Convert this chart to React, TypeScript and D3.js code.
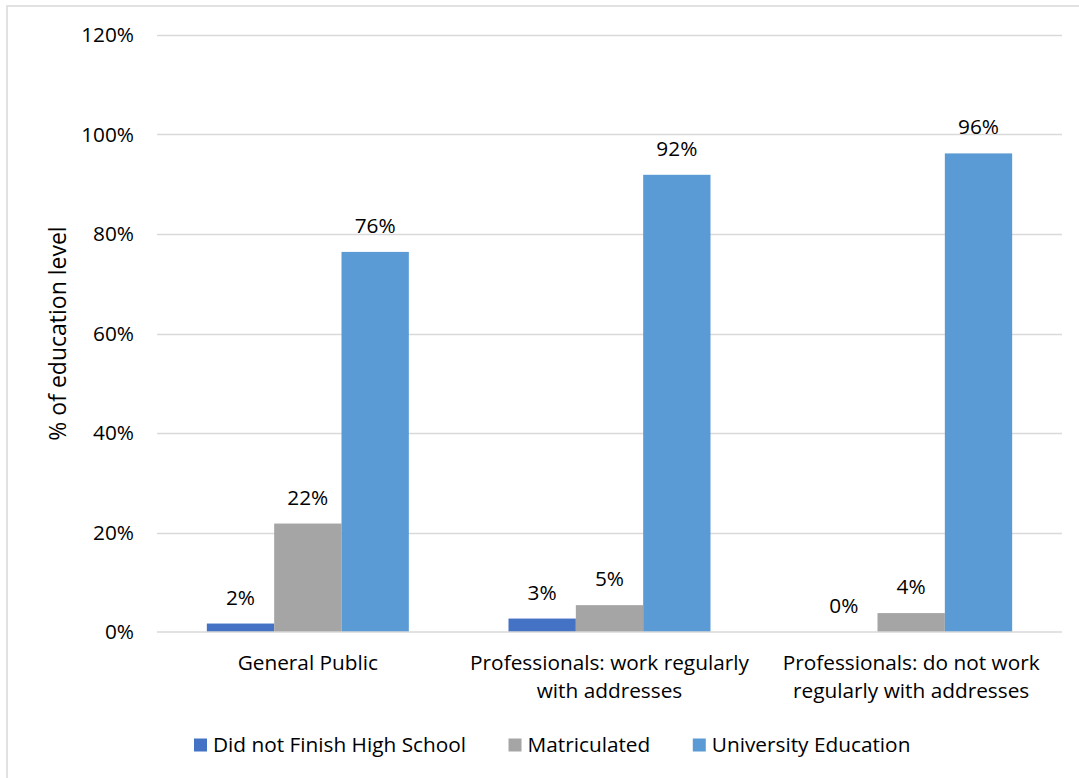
import React, { useEffect, useRef } from "react";
import * as d3 from "d3";

// Education level by respondent group
const categories = [
  "General Public",
  "Professionals: work regularly with addresses",
  "Professionals: do not work regularly with addresses",
];
const seriesNames = ["Did not Finish High School", "Matriculated", "University Education"];
const seriesColors = ["#4472C4", "#A5A5A5", "#5B9BD5"];
const noHighSchool = [0.017, 0.027, 0];
const matriculated = [0.218, 0.054, 0.038];
const university = [0.764, 0.919, 0.962];
const yTicks = [0, 0.2, 0.4, 0.6, 0.8, 1.0, 1.2];

const W = 1079;
const H = 778;
const FONT = "'Open Sans', Lato, sans-serif";
const FS = 20.8;

function measure(text: string, size: number): number {
  const c = document.createElement("canvas").getContext("2d")!;
  c.font = `${size}px 'Open Sans'`;
  return c.measureText(text).width;
}

function wrap(text: string, maxW: number, size: number): string[] {
  const words = text.split(" ");
  const lines: string[] = [];
  let cur = "";
  for (const w of words) {
    const t = cur ? cur + " " + w : w;
    if (measure(t, size) > maxW && cur) {
      lines.push(cur);
      cur = w;
    } else cur = t;
  }
  if (cur) lines.push(cur);
  return lines;
}

export default function App() {
  const ref = useRef<SVGSVGElement>(null);

  useEffect(() => {
    const svg = d3.select(ref.current!);
    svg.selectAll("*").remove();

    const left = 157, right = 1062, top = 35, bottom = 632;
    const series = [noHighSchool, matriculated, university];

    const x = d3.scaleBand<string>().domain(categories).range([left, right]).padding(0);
    const xi = d3
      .scaleBand<number>()
      .domain(d3.range(series.length))
      .range([0, x.bandwidth()])
      .paddingInner(0)
      .paddingOuter(0.74);
    const y = d3.scaleLinear().domain([0, 1.2]).range([bottom, top]);
    const fmt = d3.format(".0%");

    // chart frame
    svg
      .append("rect")
      .attr("x", 7)
      .attr("y", 6)
      .attr("width", 1200)
      .attr("height", 1000)
      .attr("fill", "#fff")
      .attr("stroke", "#D9D9D9")
      .attr("stroke-width", 1.5);

    // gridlines
    svg
      .append("g")
      .selectAll("line")
      .data(yTicks.filter((t) => t > 0))
      .join("line")
      .attr("x1", left)
      .attr("x2", right)
      .attr("y1", (d) => Math.round(y(d)) + 0.5)
      .attr("y2", (d) => Math.round(y(d)) + 0.5)
      .attr("stroke", "#D9D9D9")
      .attr("stroke-width", 1.3);

    // y tick labels
    svg
      .append("g")
      .selectAll("text")
      .data(yTicks)
      .join("text")
      .attr("x", 134)
      .attr("y", (d) => y(d))
      .attr("dy", "0.35em")
      .attr("text-anchor", "end")
      .attr("font-family", FONT)
      .attr("font-size", FS)
      .attr("fill", "#000")
      .text((d) => fmt(d));

    // bars with value labels above
    series.forEach((vals, si) => {
      const g = svg.append("g");
      g.selectAll("rect")
        .data(vals)
        .join("rect")
        .attr("x", (_, i) => x(categories[i])! + xi(si)!)
        .attr("width", xi.bandwidth())
        .attr("y", (d) => y(d))
        .attr("height", (d) => y(0) - y(d))
        .attr("fill", seriesColors[si]);
      g.selectAll("text")
        .data(vals)
        .join("text")
        .attr("x", (_, i) => x(categories[i])! + xi(si)! + xi.bandwidth() / 2)
        .attr("y", (d) => y(d) - 19)
        .attr("text-anchor", "middle")
        .attr("font-family", FONT)
        .attr("font-size", FS)
        .attr("fill", "#000")
        .text((d) => fmt(d));
    });

    // baseline
    svg
      .append("line")
      .attr("x1", left)
      .attr("x2", right)
      .attr("y1", y(0))
      .attr("y2", y(0))
      .attr("stroke", "#D9D9D9")
      .attr("stroke-width", 1.5);

    // category labels
    categories.forEach((c) => {
      const lines = wrap(c, 295, FS);
      const t = svg
        .append("text")
        .attr("text-anchor", "middle")
        .attr("font-family", FONT)
        .attr("font-size", FS)
        .attr("fill", "#000");
      lines.forEach((ln, li) => {
        t.append("tspan")
          .attr("x", x(c)! + x.bandwidth() / 2)
          .attr("y", 663 + li * 28)
          .attr("dy", "0.35em")
          .text(ln);
      });
    });

    // y axis title
    svg
      .append("text")
      .attr("transform", `translate(58,${(top + bottom) / 2}) rotate(-90)`)
      .attr("text-anchor", "middle")
      .attr("dy", "0.35em")
      .attr("font-family", FONT)
      .attr("font-size", 23)
      .attr("fill", "#000")
      .text("% of education level");

    // legend
    let lx = 194;
    const ly = 745;
    seriesNames.forEach((name, i) => {
      svg
        .append("rect")
        .attr("x", lx)
        .attr("y", ly - 6.5)
        .attr("width", 13)
        .attr("height", 13)
        .attr("fill", seriesColors[i]);
      svg
        .append("text")
        .attr("x", lx + 19)
        .attr("y", ly)
        .attr("dy", "0.35em")
        .attr("font-family", FONT)
        .attr("font-size", FS)
        .attr("fill", "#000")
        .text(name);
      lx += 19 + measure(name, FS) + 42.5;
    });
  }, []);

  return (
    <svg
      ref={ref}
      width={W}
      height={H}
      style={{ position: "absolute", left: 0, top: 0, background: "#fff" }}
    />
  );
}
